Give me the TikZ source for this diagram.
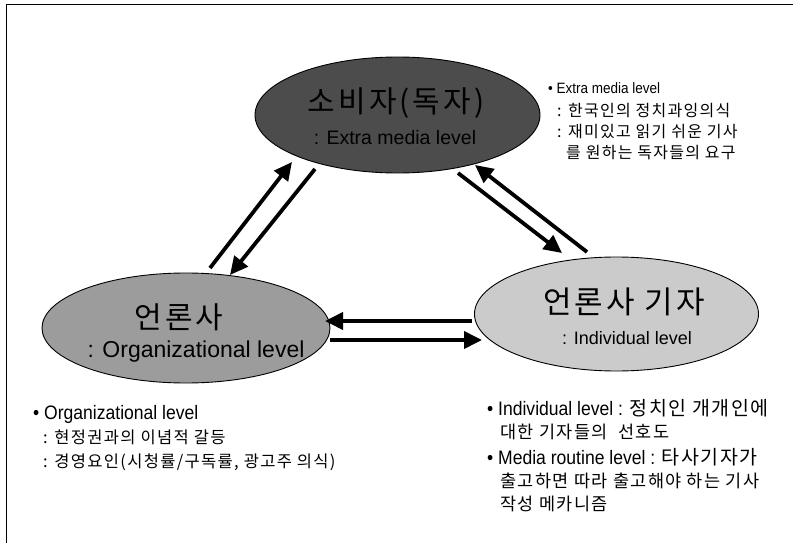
\documentclass[tikz,border=0pt]{standalone}
\usepackage{fontspec}
\setmainfont{Liberation Sans}
\newfontfamily\en{Liberation Sans}[FakeStretch=0.9]
\newfontfamily\kr{Noto Sans CJK KR}[LetterSpace=8]
\newfontfamily\krt{Noto Sans CJK KR}[LetterSpace=10]
\usetikzlibrary{arrows.meta,shapes.geometric}
\definecolor{elldark}{HTML}{4C4C4C}
\definecolor{ellmid}{HTML}{9C9C9C}
\definecolor{elllight}{HTML}{CBCBCB}
\tikzset{
  ell/.style={ellipse, draw=black, line width=0.9pt, inner sep=0pt},
  arr/.style={line width=3.8pt, -{Triangle[length=18pt,width=17pt]}},
  ttl/.style={anchor=center, inner sep=0pt, font=\krt\fontsize{30}{34}\selectfont},
  sub/.style={anchor=center, inner sep=0pt, font=\fontsize{18}{20}\selectfont},
  txt/.style={anchor=base west, inner sep=0pt, font=\en\fontsize{15}{17}\selectfont},
  ktxt/.style={anchor=base west, inner sep=0pt, font=\kr\fontsize{16}{19}\selectfont},
  btxt/.style={anchor=base west, inner sep=0pt, font=\en\fontsize{19.5}{22}\selectfont},
  bktxt/.style={anchor=base west, inner sep=0pt, font=\kr\fontsize{16.5}{19}\selectfont},
  rktxt/.style={anchor=base west, inner sep=0pt, font=\kr\fontsize{17.5}{20}\selectfont},
}
\newcommand{\K}[1]{{\kr\fontsize{19.5}{22}\selectfont #1}}
\begin{document}
\begin{tikzpicture}[x=1pt,y=-1pt]
\useasboundingbox[fill=white] (0,0) rectangle (793,543);
% frame
\draw[line width=1.4pt] (793,4.5) -- (6.5,4.5) -- (6.5,543);

% ellipses
\node[ell, fill=elldark, minimum width=285pt, minimum height=116pt] (cons) at (397.5,115) {};
\node[ell, fill=ellmid, minimum width=288pt, minimum height=110pt] (org) at (186,328) {};
\node[ell, fill=elllight, minimum width=284pt, minimum height=114pt] (ind) at (616.5,314) {};

\node[ttl] (consT) at (396,103) {소비자(독자)};
\node[sub, font=\fontsize{19.5}{21}\selectfont] (consS) at (395,138) {: Extra media level};
\node[ttl] (orgT) at (179,317) {언론사};
\node[sub, font=\fontsize{23}{25}\selectfont] (orgS) at (196,352) {: Organizational level};
\node[ttl, font=\krt\fontsize{31}{34}\selectfont] (indT) at (624,302) {언론사 기자};
\node[sub] (indS) at (627,338) {: Individual level};

% arrows
\coordinate (a1s) at (210,268); \coordinate (a1e) at (292,162);
\coordinate (a2s) at (315,169); \coordinate (a2e) at (230,275);
\coordinate (a3s) at (458,173); \coordinate (a3e) at (562,253);
\coordinate (a4s) at (587,252); \coordinate (a4e) at (475,165);
\coordinate (a5s) at (472,321); \coordinate (a5e) at (325,321);
\coordinate (a6s) at (330,340); \coordinate (a6e) at (482,340);
\draw[arr] (a1s) -- (a1e);
\draw[arr] (a2s) -- (a2e);
\draw[arr] (a3s) -- (a3e);
\draw[arr] (a4s) -- (a4e);
\draw[arr] (a5s) -- (a5e);
\draw[arr] (a6s) -- (a6e);

% top-right text
\node[txt] (e1) at (548,93) {• Extra media level};
\node[ktxt] (e2) at (557,117) {: 한국인의 정치과잉의식};
\node[ktxt] (e3) at (557,137) {: 재미있고 읽기 쉬운 기사};
\node[ktxt] (e4) at (566,158) {를 원하는 독자들의 요구};

% bottom-left text
\node[btxt] (o1) at (33,419) {• Organizational level};
\node[bktxt] (o2) at (43,443) {: 현정권과의 이념적 갈등};
\node[bktxt] (o3) at (43,467) {: 경영요인(시청률/구독률, 광고주 의식)};

% bottom-right text
\node[btxt] (i1) at (487,415) {• Individual level : \K{정치인 개개인에}};
\node[rktxt] (i2) at (500,438) {대한 기자들의 \ 선호도};
\node[btxt] (i3) at (487,464) {• Media routine level : \K{타사기자가}};
\node[rktxt] (i4) at (500,487) {출고하면 따라 출고해야 하는 기사};
\node[rktxt] (i5) at (500,510) {작성 메카니즘};
\end{tikzpicture}
\end{document}
